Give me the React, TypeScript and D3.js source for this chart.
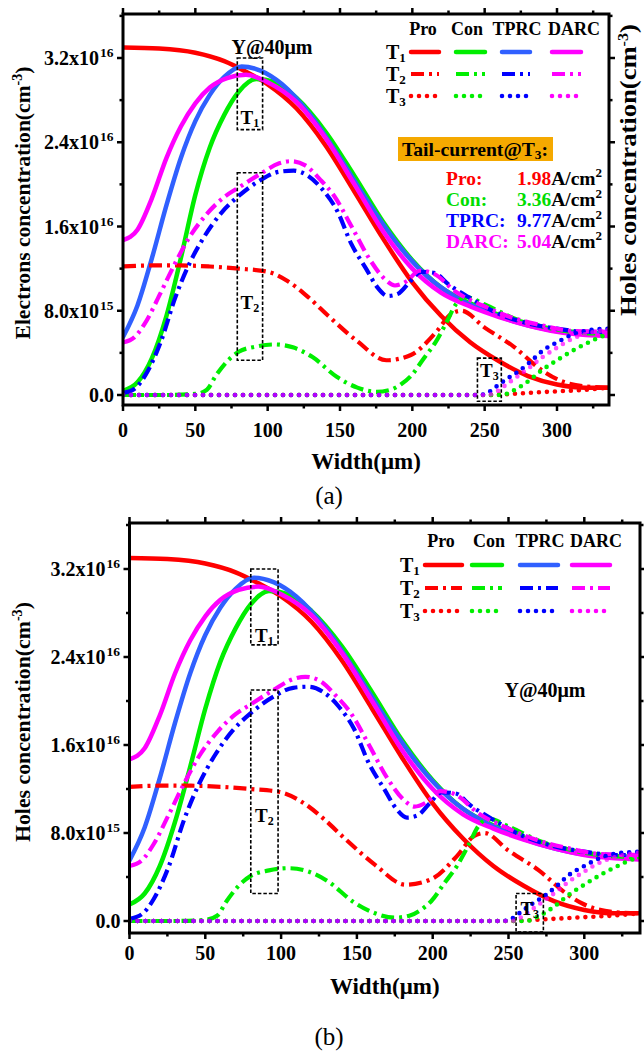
import React from 'react';
import * as d3 from 'd3';

type Pt = [number, number];

// Width (um) vs concentration (x1e16 cm^-3)
const proT1: Pt[] = [[0, 3.3], [25, 3.29], [50, 3.25], [70, 3.17], [85, 3.07], [100, 2.95], [120, 2.72], [140, 2.37], [160, 1.93], [180, 1.48], [200, 1.07], [220, 0.75], [240, 0.5], [260, 0.32], [280, 0.18], [300, 0.1], [320, 0.07], [336, 0.07]];
const conT1: Pt[] = [[0, 0.04], [10, 0.12], [20, 0.35], [30, 0.75], [40, 1.3], [50, 1.9], [60, 2.35], [70, 2.66], [80, 2.88], [92, 3.0], [105, 2.97], [120, 2.82], [140, 2.5], [160, 2.08], [180, 1.64], [200, 1.28], [220, 1.02], [240, 0.87], [260, 0.76], [280, 0.68], [300, 0.62], [320, 0.59], [336, 0.58]];
const conT1b: Pt[] = [[0, 0.15], [10, 0.25], [20, 0.5], [30, 0.9], [40, 1.4], [50, 1.93], [60, 2.36], [70, 2.66], [80, 2.88], [92, 3.0], [105, 2.97], [120, 2.82], [140, 2.5], [160, 2.08], [180, 1.64], [200, 1.28], [220, 1.02], [240, 0.87], [260, 0.76], [280, 0.68], [300, 0.62], [320, 0.59], [336, 0.58]];
const tprcT1: Pt[] = [[0, 0.55], [10, 0.85], [20, 1.3], [30, 1.8], [40, 2.25], [50, 2.6], [60, 2.85], [70, 3.02], [82, 3.12], [95, 3.08], [110, 2.95], [130, 2.65], [150, 2.25], [170, 1.82], [190, 1.43], [210, 1.13], [230, 0.93], [250, 0.8], [270, 0.7], [290, 0.63], [310, 0.59], [336, 0.58]];
const darcT1: Pt[] = [[0, 1.47], [10, 1.57], [20, 1.87], [30, 2.25], [40, 2.55], [50, 2.77], [60, 2.92], [72, 3.01], [85, 3.04], [100, 2.97], [120, 2.78], [140, 2.44], [160, 2.0], [180, 1.55], [200, 1.2], [220, 0.97], [240, 0.84], [260, 0.74], [280, 0.66], [300, 0.6], [320, 0.57], [336, 0.56]];

const proT2: Pt[] = [[0, 1.22], [20, 1.23], [40, 1.23], [60, 1.22], [80, 1.2], [100, 1.17], [114, 1.08], [128, 0.93], [142, 0.75], [162, 0.51], [182, 0.33], [199, 0.38], [216, 0.59], [227, 0.77], [234, 0.8], [250, 0.64], [270, 0.46], [289, 0.24], [300, 0.15], [320, 0.08], [336, 0.07]];
const conT2: Pt[] = [[0, 0], [30, 0], [50, 0.01], [58, 0.05], [64, 0.18], [72, 0.32], [80, 0.41], [92, 0.46], [105, 0.48], [118, 0.45], [131, 0.36], [148, 0.17], [162, 0.07], [175, 0.03], [185, 0.05], [192, 0.1], [199, 0.18], [208, 0.35], [216, 0.5], [224, 0.7], [230, 0.86], [237, 0.93], [250, 0.86], [270, 0.73], [290, 0.65], [310, 0.6], [336, 0.58]];
const tprcT2: Pt[] = [[0, 0.02], [8, 0.06], [16, 0.2], [26, 0.5], [36, 0.92], [46, 1.25], [56, 1.5], [68, 1.73], [80, 1.89], [95, 2.04], [108, 2.12], [118, 2.13], [128, 2.08], [138, 1.95], [148, 1.75], [158, 1.43], [168, 1.2], [176, 1.02], [183, 0.94], [190, 0.96], [198, 1.07], [206, 1.17], [215, 1.16], [225, 1.05], [240, 0.92], [260, 0.77], [280, 0.68], [300, 0.63], [320, 0.6], [336, 0.6]];
const darcT2: Pt[] = [[0, 0.5], [8, 0.55], [16, 0.7], [26, 0.97], [36, 1.25], [46, 1.5], [58, 1.72], [70, 1.88], [80, 1.97], [95, 2.1], [108, 2.2], [116, 2.22], [126, 2.18], [136, 2.05], [146, 1.89], [158, 1.6], [170, 1.3], [181, 1.1], [188, 1.04], [196, 1.08], [205, 1.18], [215, 1.15], [230, 0.98], [250, 0.84], [270, 0.73], [290, 0.66], [310, 0.61], [336, 0.6]];

const proT3: Pt[] = [[0, 0], [255, 0], [262, 0.005], [280, 0.02], [300, 0.035], [320, 0.05], [336, 0.07]];
const conT3: Pt[] = [[0, 0], [262, 0], [268, 0.03], [280, 0.13], [290, 0.24], [300, 0.33], [312, 0.43], [322, 0.5], [332, 0.56], [336, 0.57]];
const tprcT3: Pt[] = [[0, 0], [246, 0], [252, 0.02], [258, 0.08], [265, 0.15], [273, 0.22], [282, 0.32], [290, 0.42], [300, 0.5], [310, 0.57], [320, 0.61], [336, 0.63]];
const darcT3: Pt[] = [[0, 0], [252, 0], [258, 0.03], [265, 0.1], [272, 0.17], [280, 0.25], [290, 0.36], [300, 0.45], [310, 0.53], [320, 0.58], [336, 0.62]];

const seriesNames = ['Pro', 'Con', 'TPRC', 'DARC'];
const timeSubs = ['1', '2', '3'];
const groupsA = [[proT1, conT1, tprcT1, darcT1], [proT2, conT2, tprcT2, darcT2], [proT3, conT3, tprcT3, darcT3]];
const groupsB = [[proT1, conT1b, tprcT1, darcT1], [proT2, conT2, tprcT2, darcT2], [proT3, conT3, tprcT3, darcT3]];

const yTicks = [0, 0.8, 1.6, 2.4, 3.2];
const yTickMant = ['0.0', '8.0x10', '1.6x10', '2.4x10', '3.2x10'];
const yTickExp = ['', '15', '16', '16', '16'];
const xTicks = [0, 50, 100, 150, 200, 250, 300];

const tailNames = ['Pro:', 'Con:', 'TPRC:', 'DARC:'];
const tailValues = ['1.98', '3.36', '9.77', '5.04'];

const colorsT1 = ['#ff0000', '#00ee00', '#3060ff', '#ff00ff'];
const colorsT23 = ['#ff0000', '#00ee00', '#0000ff', '#ff00ff'];
const tailColors = ['#ff0000', '#00dd00', '#0000ff', '#ff00ff'];
const dashes = ['', '13 5 3 5', '0 8'];
const caps: ('round' | 'butt')[] = ['round', 'butt', 'round'];
const widths = [4.5, 4.2, 4.6];
const FONT = "'Liberation Serif', 'Times New Roman', serif";

const layoutA = {
  left: 123, right: 609, top: 14, bottom: 405, zeroY: 395, y32: 58, x300: 557,
  tickY: 437, titleY: 469, labelY: 504, yTitleY: 203,
  legend: { head: 35, rows: [52, 74, 96], tx: 386, heads: [423, 467, 517, 574], samples: [[411, 439], [456, 485], [502, 530], [552, 581]] },
  noteX: 272, noteY: 47,
  boxes: [
    { x0: 79, x1: 96.5, y0: 2.52, y1: 3.2, t: '1', ty: 117 },
    { x0: 79, x1: 96.5, y0: 0.33, y1: 2.11, t: '2', ty: 302 },
    { x0: 245, x1: 261.5, y0: -0.06, y1: 0.35, t: '3', ty: 370 },
  ],
};
const layoutB = {
  left: 129.5, right: 640, top: 523, bottom: 933, zeroY: 921, y32: 569, x300: 584.3,
  tickY: 960, titleY: 994, labelY: 1045, yTitleY: 722,
  legend: { head: 547, rows: [565, 588, 611], tx: 400, heads: [441, 489, 540, 596], samples: [[425, 462], [472, 502], [520, 558], [572, 610]] },
  noteX: 545, noteY: 690,
  boxes: [
    { x0: 80, x1: 98, y0: 2.51, y1: 3.2, t: '1', ty: 635 },
    { x0: 80, x1: 98, y0: 0.25, y1: 2.1, t: '2', ty: 815 },
    { x0: 255, x1: 273, y0: -0.1, y1: 0.25, t: '3', ty: 908 },
  ],
};

type Layout = typeof layoutA;

function Sub({ t, s, size = 13 }: { t: string; s: string; size?: number }) {
  return (<>{t}<tspan fontSize={size} dy={3}>{s}</tspan></>);
}

function Panel({ L, id, groups, yTitle, yTitleLen, rightTitle, panelLabel, showTail }: {
  L: Layout; id: string; groups: Pt[][][]; yTitle: string; yTitleLen: number; rightTitle?: string; panelLabel: string; showTail?: boolean;
}) {
  const x = d3.scaleLinear().domain([0, 300]).range([L.left, L.x300]);
  const y = d3.scaleLinear().domain([0, 3.2]).range([L.zeroY, L.y32]);
  const line = d3.line<Pt>().x(d => x(d[0])).y(d => y(d[1])).curve(d3.curveMonotoneX);
  const xMax = x.invert(L.right);
  const yMax = y.invert(L.top);
  const xMinor = d3.range(0, xMax, 25);
  const yMinor = d3.range(0, yMax, 0.4);
  const isMajorY = (v: number) => Math.abs(v / 0.8 - Math.round(v / 0.8)) < 1e-6;
  const midX = (L.left + L.right) / 2;

  return (
    <g fontFamily={FONT}>
      <defs>
        <clipPath id={`clip-${id}`}>
          <rect x={L.left} y={L.top} width={L.right - L.left} height={L.bottom - L.top} />
        </clipPath>
      </defs>

      <g clipPath={`url(#clip-${id})`}>
        {groups.map((g, gi) => g.map((d, si) => (
          <path key={`${gi}-${si}`} d={line(d) || ''} fill="none"
            stroke={gi === 0 ? colorsT1[si] : colorsT23[si]} strokeWidth={widths[gi]}
            strokeDasharray={dashes[gi]} strokeLinecap={caps[gi]}
            opacity={gi === 2 && si === 3 ? 0.7 : 1} />
        )))}
      </g>

      {/* frame and ticks */}
      <rect x={L.left} y={L.top} width={L.right - L.left} height={L.bottom - L.top} fill="none" stroke="#000" strokeWidth={3} />
      {xMinor.map(v => {
        const len = v % 50 === 0 ? 6 : 3.5;
        return (
          <g key={`xt${v}`} stroke="#000" strokeWidth={2.5}>
            <line x1={x(v)} x2={x(v)} y1={L.bottom} y2={L.bottom + len} />
            <line x1={x(v)} x2={x(v)} y1={L.top} y2={L.top - len} />
          </g>
        );
      })}
      {yMinor.map(v => {
        const len = isMajorY(v) ? 6 : 3.5;
        return (
          <g key={`yt${v}`} stroke="#000" strokeWidth={2.5}>
            <line x1={L.left} x2={L.left - len} y1={y(v)} y2={y(v)} />
            <line x1={L.right} x2={L.right + len} y1={y(v)} y2={y(v)} />
          </g>
        );
      })}

      {xTicks.map(v => (
        <text key={`xl${v}`} x={x(v)} y={L.tickY} textAnchor="middle" fontSize={20} fontWeight="bold">{v}</text>
      ))}
      {yTicks.map((v, i) => (
        <g key={`yl${v}`} fontWeight="bold">
          <text x={L.left - 9 - (yTickExp[i] ? 15 : 0)} y={y(v) + 7} textAnchor="end" fontSize={20}>{yTickMant[i]}</text>
          {yTickExp[i] && <text x={L.left - 23} y={y(v) - 1} fontSize={13.5}>{yTickExp[i]}</text>}
        </g>
      ))}

      <text x={midX} y={L.titleY} textAnchor="middle" fontSize={23} fontWeight="bold">Width(μm)</text>
      <text x={329} y={L.labelY} textAnchor="middle" fontSize={25}>{panelLabel}</text>
      <text transform={`translate(30,${L.yTitleY}) rotate(-90)`} textAnchor="middle" fontSize={21.5} fontWeight="bold"
        textLength={yTitleLen} lengthAdjust="spacingAndGlyphs">
        {yTitle}(cm<tspan dy={-8} fontSize={14}>-3</tspan><tspan dy={8}>)</tspan>
      </text>
      {rightTitle && (
        <text transform={`translate(636,170) rotate(-90)`} textAnchor="middle" fontSize={23} fontWeight="bold"
          textLength={292} lengthAdjust="spacingAndGlyphs">
          {rightTitle}(cm<tspan dy={-8} fontSize={14}>-3</tspan><tspan dy={8}>)</tspan>
        </text>
      )}

      {/* legend */}
      {seriesNames.map((n, i) => (
        <text key={`h${n}`} x={L.legend.heads[i]} y={L.legend.head} textAnchor="middle" fontSize={18} fontWeight="bold">{n}</text>
      ))}
      {timeSubs.map((t, ri) => (
        <g key={`r${t}`}>
          <text x={L.legend.tx} y={L.legend.rows[ri] + 7} fontSize={20} fontWeight="bold">
            <Sub t="T" s={t} size={13} />
          </text>
          {seriesNames.map((n, si) => (
            <line key={n} x1={L.legend.samples[si][0]} x2={L.legend.samples[si][1]}
              y1={L.legend.rows[ri]} y2={L.legend.rows[ri]}
              stroke={ri === 0 ? colorsT1[si] : colorsT23[si]} strokeWidth={widths[ri]}
              strokeDasharray={dashes[ri]} strokeLinecap={caps[ri]} />
          ))}
        </g>
      ))}

      <text x={L.noteX} y={L.noteY + 7} textAnchor="middle" fontSize={20} fontWeight="bold">Y@40μm</text>

      {L.boxes.map(b => (
        <g key={`b${b.t}`}>
          <rect x={x(b.x0)} y={y(b.y1)} width={x(b.x1) - x(b.x0)} height={y(b.y0) - y(b.y1)}
            fill="none" stroke="#000" strokeWidth={1.6} strokeDasharray="3.5 2" />
          <text x={(x(b.x0) + x(b.x1)) / 2} y={b.ty + 7} textAnchor="middle" fontSize={19} fontWeight="bold">
            <Sub t="T" s={b.t} size={12} />
          </text>
        </g>
      ))}

      {showTail && (
        <g fontWeight="bold">
          <rect x={398} y={137} width={155} height={24} fill="#f5a900" />
          <text x={402} y={156} fontSize={19} textLength={146} lengthAdjust="spacingAndGlyphs">
            Tail-current@T<tspan fontSize={13} dy={3}>3</tspan><tspan dy={-3}>:</tspan>
          </text>
          {tailNames.map((n, i) => (
            <g key={n} fontSize={19.5}>
              <text x={446} y={185 + i * 21} fill={tailColors[i]}>{n}</text>
              <text x={517} y={185 + i * 21}>
                <tspan fill={tailColors[i]}>{tailValues[i]}</tspan>A/cm<tspan dy={-8} fontSize={13}>2</tspan>
              </text>
            </g>
          ))}
        </g>
      )}
    </g>
  );
}

export default function App() {
  return (
    <svg width={644} height={1056} style={{ position: 'absolute', left: 0, top: 0, background: '#fff' }}>
      <rect width={644} height={1056} fill="#fff" />
      <Panel L={layoutA} id="a" groups={groupsA} yTitle="Electrons concentration" yTitleLen={273}
        rightTitle="Holes concentration" panelLabel="(a)" showTail />
      <Panel L={layoutB} id="b" groups={groupsB} yTitle="Holes concentration" yTitleLen={240} panelLabel="(b)" />
    </svg>
  );
}
